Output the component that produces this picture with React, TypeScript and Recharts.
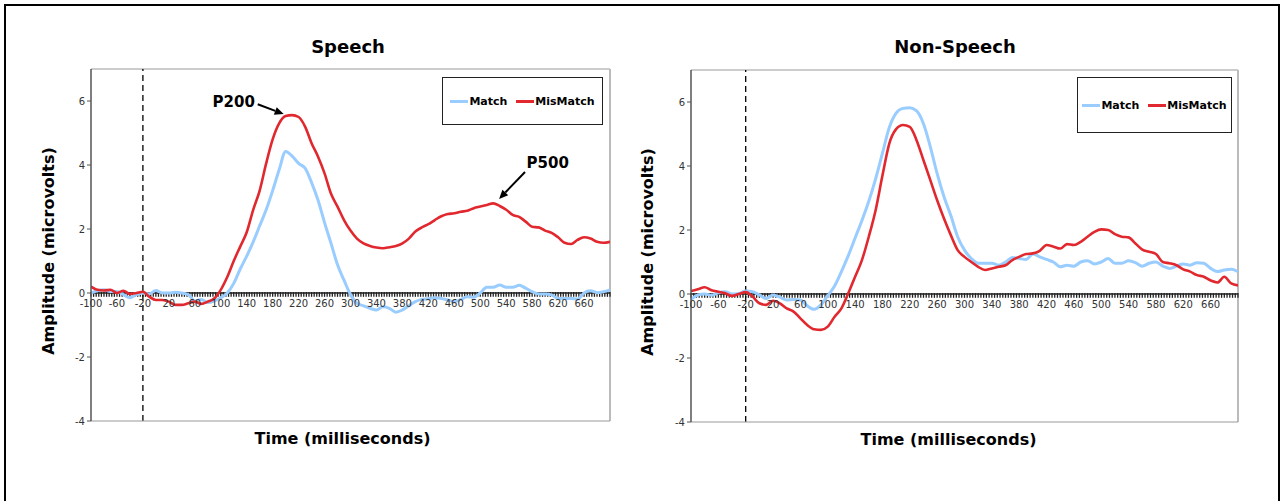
import React from 'react'
import {
    LineChart,
    Line,
    XAxis,
    YAxis,
    Legend,
    ReferenceLine,
    ReferenceDot
} from 'recharts'

// sample times in ms (10 ms steps)
const times = [
    -100, -90, -80, -70, -60, -50, -40, -30, -20, -10,
    0, 10, 20, 30, 40, 50, 60, 70, 80, 90,
    100, 110, 120, 130, 140, 150, 160, 170, 180, 190,
    200, 210, 220, 230, 240, 250, 260, 270, 280, 290,
    300, 310, 320, 330, 340, 350, 360, 370, 380, 390,
    400, 410, 420, 430, 440, 450, 460, 470, 480, 490,
    500, 510, 520, 530, 540, 550, 560, 570, 580, 590,
    600, 610, 620, 630, 640, 650, 660, 670, 680, 690,
    700
]

const speechMatch = [
    0, 0.07, 0.1, 0.05, 0.05, -0.05, -0.15, -0.05, 0, -0.03,
    0.08, 0, 0, 0.02, 0, -0.05, -0.25, -0.2, -0.3, -0.25,
    -0.15, 0, 0.3, 0.75, 1.15, 1.6, 2.1, 2.6, 3.2, 3.85,
    4.42, 4.28, 4.05, 3.9, 3.45, 2.9, 2.2, 1.55, 0.88, 0.4,
    -0.05, -0.32, -0.4, -0.48, -0.53, -0.43, -0.48, -0.6, -0.53, -0.4,
    -0.27, -0.2, -0.18, -0.15, -0.17, -0.22, -0.27, -0.2, -0.12, -0.13,
    0, 0.18, 0.18, 0.25, 0.18, 0.18, 0.24, 0.15, 0.04, -0.03,
    -0.03, -0.06, -0.17, -0.17, -0.17, -0.19, 0, 0.07, 0.01, 0.04,
    0.1
]

const speechMisMatch = [
    0.2, 0.1, 0.08, 0.1, 0, 0.07, -0.03, 0, 0.04, -0.12,
    -0.22, -0.22, -0.27, -0.37, -0.37, -0.32, -0.27, -0.34, -0.27, -0.17,
    0.1, 0.5, 1.0, 1.45, 1.9, 2.6, 3.2, 4.05, 4.8, 5.3,
    5.53, 5.56, 5.5, 5.2, 4.68, 4.26, 3.74, 3.1, 2.7, 2.28,
    1.95, 1.7, 1.55, 1.47, 1.42, 1.4, 1.43, 1.47, 1.55, 1.7,
    1.92, 2.05, 2.15, 2.28, 2.4, 2.47, 2.49, 2.54, 2.57, 2.65,
    2.7, 2.75, 2.8, 2.72, 2.6, 2.44, 2.38, 2.23, 2.07, 2.05,
    1.95, 1.88, 1.74, 1.57, 1.53, 1.66, 1.74, 1.7, 1.6, 1.57,
    1.6
]

const nonSpeechMatch = [
    -0.17, -0.03, 0, -0.04, 0.04, 0.07, 0, 0.02, 0.09, 0.07,
    -0.03, -0.14, -0.03, -0.1, -0.19, -0.17, -0.19, -0.37, -0.48, -0.34,
    -0.05, 0.25, 0.7, 1.2, 1.75, 2.3, 2.9, 3.6, 4.4, 5.2,
    5.65, 5.8, 5.82, 5.72, 5.32, 4.6, 3.76, 3.04, 2.45, 1.79,
    1.37, 1.11, 0.96, 0.96, 0.96, 0.9, 1.0, 1.14, 1.11, 1.08,
    1.25, 1.16, 1.08, 1.0, 0.85, 0.9, 0.87, 1.0, 1.04, 0.94,
    1.0, 1.11, 0.96, 0.96, 1.04, 0.98, 0.87, 0.96, 1.0, 0.87,
    0.8, 0.87, 0.94, 0.9, 0.98, 0.96, 0.8, 0.7, 0.75, 0.77,
    0.7
]

const nonSpeechMisMatch = [
    0.09, 0.15, 0.21, 0.12, 0.07, 0.02, -0.06, 0, 0.06, -0.08,
    -0.29, -0.34, -0.21, -0.29, -0.45, -0.55, -0.76, -0.97, -1.1, -1.12,
    -1.02, -0.71, -0.45, 0.02, 0.54, 1.06, 1.79, 2.62, 3.7, 4.7,
    5.15, 5.28, 5.22, 4.8, 4.18, 3.56, 2.93, 2.36, 1.84, 1.37,
    1.16, 1.0, 0.85, 0.75, 0.8, 0.85, 0.9, 1.06, 1.16, 1.25,
    1.27, 1.35, 1.53, 1.48, 1.42, 1.56, 1.53, 1.63, 1.79, 1.94,
    2.02, 2.0, 1.87, 1.79, 1.77, 1.58, 1.39, 1.32, 1.25, 1.0,
    0.96, 0.9, 0.77, 0.7, 0.59, 0.54, 0.42, 0.36, 0.54, 0.33,
    0.27
]

// labelled ticks along the zero line
const timeLabels = [
    -100, -60, -20, 20, 60, 100, 140, 180, 220, 260, 300, 340,
    380, 420, 460, 500, 540, 580, 620, 660
]
const yTicks = [-4, -2, 0, 2, 4, 6]
const onsetTime = -20

// one minor tick per 4 ms sample
const sampleTicks = Array.from({ length: 201 }, (_, i) => -100 + i * 4)

const MATCH_COLOR = '#99ccff'
const MISMATCH_COLOR = '#e0282e'
const FONT = '"DejaVu Sans", Verdana, sans-serif'

type Annotation = {
    text: string
    textAt: { x: number; y: number }
    from: { x: number; y: number }
    to: { x: number; y: number }
}

const speechNotes: Annotation[] = [
    { text: 'P200', textAt: { x: 120, y: 5.97 }, from: { x: 157, y: 5.9 }, to: { x: 197, y: 5.59 } },
    { text: 'P500', textAt: { x: 604, y: 4.06 }, from: { x: 569, y: 3.78 }, to: { x: 529, y: 2.94 } }
]

function ArrowShape(props: any) {
    const { x1, y1, x2, y2 } = props
    const ang = Math.atan2(y2 - y1, x2 - x1)
    const len = 9
    const w = 4
    const bx = x2 - len * Math.cos(ang)
    const by = y2 - len * Math.sin(ang)
    const px = -Math.sin(ang) * w
    const py = Math.cos(ang) * w
    return (
        <g>
            <line x1={x1} y1={y1} x2={bx} y2={by} stroke="#000" strokeWidth={2} />
            <polygon points={`${x2},${y2} ${bx + px},${by + py} ${bx - px},${by - py}`} fill="#000" />
        </g>
    )
}

function LegendBox({ payload }: any) {
    return (
        <div
            style={{
                width: '100%',
                height: '100%',
                boxSizing: 'border-box',
                border: '1.5px solid #222',
                background: '#fff',
                display: 'flex',
                alignItems: 'center',
                justifyContent: 'center',
                gap: 9,
                fontFamily: FONT,
                fontSize: 11,
                fontWeight: 'bold',
                color: '#000'
            }}
        >
            {(payload || []).map((p: any) => (
                <span key={p.value} style={{ display: 'flex', alignItems: 'center' }}>
                    <span style={{ display: 'inline-block', width: 18, height: 3, background: p.color, marginRight: 1 }} />
                    {p.value}
                </span>
            ))}
        </div>
    )
}

type PanelProps = {
    match: number[]
    misMatch: number[]
    left: number
    width: number
    margin: { top: number; right: number; left: number; bottom: number }
    yAxisWidth: number
    xTitleDx: number
    legendBox: { left: number; top: number; width: number; height: number }
    notes?: Annotation[]
}

function ErpPanel({ match, misMatch, left, width, margin, yAxisWidth, xTitleDx, legendBox, notes = [] }: PanelProps) {
    const data = times.map((t, i) => ({ t, match: match[i], misMatch: misMatch[i] }))
    return (
        <div style={{ position: 'absolute', left, top: 0 }}>
            <LineChart width={width} height={460} data={data} margin={margin}>
                <XAxis
                    dataKey="t"
                    type="number"
                    domain={[-100, 700]}
                    allowDataOverflow
                    tick={false}
                    tickLine={false}
                    axisLine={{ stroke: '#999' }}
                    height={34}
                    label={{
                        value: 'Time (milliseconds)',
                        position: 'center',
                        dx: xTitleDx,
                        fontSize: 16,
                        fontWeight: 'bold',
                        fill: '#000',
                        fontFamily: FONT
                    }}
                />
                <YAxis
                    type="number"
                    domain={[-4, 7]}
                    ticks={yTicks}
                    allowDataOverflow
                    width={yAxisWidth}
                    tickSize={4}
                    tick={{ fontSize: 10, fill: '#333', fontFamily: FONT }}
                    tickLine={{ stroke: '#555' }}
                    axisLine={{ stroke: '#555', strokeWidth: 1.5 }}
                    label={{
                        value: 'Amplitude (microvolts)',
                        angle: -90,
                        position: 'center',
                        dy: 6,
                        fontSize: 16,
                        fontWeight: 'bold',
                        fill: '#000',
                        fontFamily: FONT
                    }}
                />
                {/* plot frame */}
                <ReferenceLine y={7} stroke="#bbb" strokeWidth={1.5} />
                <ReferenceLine x={700} stroke="#bbb" strokeWidth={2} />

                {/* zero line with a tick at every sample */}
                <ReferenceLine y={0} stroke="#222" strokeWidth={1.5} />
                {sampleTicks.map(t => (
                    <ReferenceLine
                        key={'s' + t}
                        segment={[{ x: t, y: 0.03 }, { x: t, y: -0.12 }]}
                        stroke="#222"
                        strokeWidth={1.3}
                    />
                ))}
                {timeLabels.map(t => (
                    <ReferenceDot
                        key={'l' + t}
                        x={t}
                        y={0}
                        r={0}
                        fill="none"
                        stroke="none"
                        label={{ value: t, position: 'bottom', offset: 7, fontSize: 10, fill: '#333', fontFamily: FONT }}
                    />
                ))}

                <ReferenceLine x={onsetTime} stroke="#000" strokeWidth={1.3} strokeDasharray="6 4" />

                {notes.map(n => (
                    <ReferenceLine
                        key={'a' + n.text}
                        segment={[n.from, n.to]}
                        shape={ArrowShape}
                    />
                ))}
                {notes.map(n => (
                    <ReferenceDot
                        key={'t' + n.text}
                        x={n.textAt.x}
                        y={n.textAt.y}
                        r={0}
                        fill="none"
                        stroke="none"
                        label={{ value: n.text, position: 'center', fontSize: 15, fontWeight: 'bold', fill: '#000', fontFamily: FONT }}
                    />
                ))}

                <Legend
                    layout="horizontal"
                    align="center"
                    verticalAlign="middle"
                    content={LegendBox}
                    wrapperStyle={{ position: 'absolute', ...legendBox }}
                />
                <Line
                    type="monotone"
                    dataKey="match"
                    name="Match"
                    stroke={MATCH_COLOR}
                    strokeWidth={3}
                    dot={false}
                    isAnimationActive={false}
                />
                <Line
                    type="monotone"
                    dataKey="misMatch"
                    name="MisMatch"
                    stroke={MISMATCH_COLOR}
                    strokeWidth={2.6}
                    dot={false}
                    isAnimationActive={false}
                />
            </LineChart>
        </div>
    )
}

const titleStyle: React.CSSProperties = {
    position: 'absolute',
    top: 36,
    width: 300,
    textAlign: 'center',
    fontFamily: FONT,
    fontSize: 18,
    fontWeight: 'bold',
    lineHeight: '22px'
}

export default function App() {
    return (
        <div
            style={{
                position: 'fixed',
                left: 0,
                top: 0,
                width: 1287,
                height: 501,
                overflow: 'hidden',
                background: '#fff',
                fontFamily: FONT
            }}
        >
            {/* outer frame, open at the bottom */}
            <div
                style={{
                    position: 'absolute',
                    left: 4,
                    top: 4,
                    width: 1276,
                    height: 600,
                    borderLeft: '2px solid #000',
                    borderTop: '2px solid #000',
                    borderRight: '2px solid #000',
                    boxSizing: 'border-box'
                }}
            />
            <div style={{ ...titleStyle, left: 348 - 150 }}>Speech</div>
            <div style={{ ...titleStyle, left: 955 - 150 }}>Non-Speech</div>

            <ErpPanel
                match={speechMatch}
                misMatch={speechMisMatch}
                left={0}
                width={620}
                margin={{ top: 69, right: 10, left: 5, bottom: 5 }}
                yAxisWidth={86}
                xTitleDx={-8}
                legendBox={{ left: 442, top: 77, width: 161, height: 48 }}
                notes={speechNotes}
            />
            <ErpPanel
                match={nonSpeechMatch}
                misMatch={nonSpeechMisMatch}
                left={600}
                width={648}
                margin={{ top: 70, right: 10, left: 3, bottom: 4 }}
                yAxisWidth={88}
                xTitleDx={-16}
                legendBox={{ left: 477, top: 77, width: 155, height: 56 }}
            />
        </div>
    )
}
